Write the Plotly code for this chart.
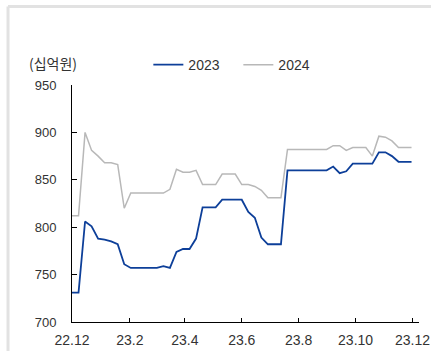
import pandas as pd
import plotly.graph_objects as go

dates = pd.date_range("2022-12-01", periods=53, freq="7D")

s2023 = [731, 731, 806, 801, 788, 787, 785, 782, 761, 757,
         757, 757, 757, 757, 759, 757, 774, 777, 777, 788,
         821, 821, 821, 829, 829, 829, 829, 816, 810, 789,
         782, 782, 782, 860, 860, 860, 860, 860, 860, 860,
         864, 857, 859, 867, 867, 867, 867, 879, 879, 875,
         869, 869, 869]

s2024 = [812, 812, 900, 881, 875, 868, 868, 866, 820, 836,
         836, 836, 836, 836, 836, 840, 861, 858, 858, 860,
         845, 845, 845, 856, 856, 856, 845, 845, 843, 839,
         831, 831, 831, 882, 882, 882, 882, 882, 882, 882,
         886, 886, 881, 884, 884, 884, 875, 896, 895, 891,
         884, 884, 884]

tick_dates = ["2022-12-01", "2023-02-01", "2023-04-01", "2023-06-01",
              "2023-08-01", "2023-10-01", "2023-12-01"]
tick_labels = ["22.12", "23.2", "23.4", "23.6", "23.8", "23.10", "23.12"]
y_ticks = [700, 750, 800, 850, 900, 950]

fig = go.Figure()
fig.add_trace(go.Scatter(x=dates, y=s2023, mode="lines", name="2023",
                         line=dict(color="#0d3f99", width=1.8)))
fig.add_trace(go.Scatter(x=dates, y=s2024, mode="lines", name="2024",
                         line=dict(color="#b8b8b8", width=1.5)))

font = dict(family="Liberation Sans, Arial, sans-serif", size=13, color="#333333")
xfont = dict(family="Liberation Sans, Arial, sans-serif", size=14, color="#333333")

fig.update_layout(
    width=431, height=351,
    margin=dict(l=72, r=12, t=85, b=29),
    paper_bgcolor="white", plot_bgcolor="white",
    font=font,
    showlegend=True,
    legend=dict(orientation="h", x=0.22, xanchor="left", y=1.084, yanchor="middle",
                font=xfont, bgcolor="rgba(0,0,0,0)", itemwidth=30,
                entrywidth=45, entrywidthmode="pixels"),
    xaxis=dict(type="date", range=["2022-12-01", "2023-12-08"],
               tickmode="array", tickvals=tick_dates, ticktext=tick_labels,
               showline=True, linecolor="black", linewidth=1,
               ticks="inside", ticklen=4, tickcolor="black",
               ticklabelstandoff=5, automargin=False,
               showgrid=False, zeroline=False, tickfont=xfont),
    yaxis=dict(range=[700, 950], tickmode="array", tickvals=y_ticks,
               showline=True, linecolor="black", linewidth=1,
               ticks="inside", ticklen=5, tickcolor="black",
               ticklabelstandoff=12, automargin=False,
               showgrid=False, zeroline=False, tickfont=font),
    annotations=[dict(text="(십억원)", xref="paper", yref="paper",
                      x=-0.055, y=1.092, xanchor="center", yanchor="middle",
                      showarrow=False,
                      font=dict(family="Noto Sans CJK KR", size=14, color="#333333"))],
    shapes=[
        dict(type="line", xref="paper", yref="paper", x0=-0.1844, x1=1.2,
             y0=1.331, y1=1.331, line=dict(color="#e2e2e2", width=3)),
        dict(type="line", xref="paper", yref="paper", x0=-0.1844, x1=-0.1844,
             y0=1.331, y1=-0.3, line=dict(color="#e2e2e2", width=3)),
    ],
)

fig.write_html("out.html")
